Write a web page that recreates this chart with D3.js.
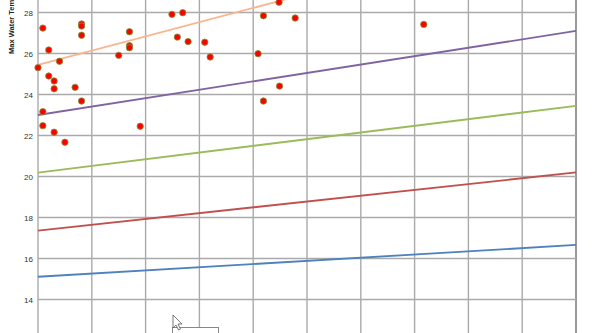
<!DOCTYPE html>
<html><head><meta charset="utf-8">
<script src="https://cdn.jsdelivr.net/npm/d3@7"></script>
<style>html,body{margin:0;padding:0;background:#fff;overflow:hidden}svg{display:block}</style>
</head><body>
<svg id="c" width="592" height="333"></svg>
<script>
// Data (x in axis units, 10 grid intervals; y = max water temperature)
const pointX = [0.00,0.09,0.20,0.40,0.20,0.30,0.30,0.09,0.09,0.30,0.50,0.69,0.81,0.81,0.81,0.81,1.50,1.70,1.70,1.70,1.90,2.49,2.69,2.59,2.79,3.10,3.20,4.09,4.19,4.48,4.78,4.49,4.19,7.17];
const pointY = [25.31,27.24,26.17,25.62,24.90,24.66,24.28,23.16,22.48,22.16,21.67,24.35,27.44,27.34,26.89,23.68,25.91,27.06,26.38,26.28,22.45,27.91,27.99,26.80,26.58,26.55,25.83,25.99,27.84,28.50,27.73,24.41,23.68,27.42];
const lineNames = ["orange","purple","green","red","blue"];
const lineStart = [25.44,23.00,20.19,17.36,15.11];
const lineEnd   = [32.40,27.10,23.45,20.20,16.66];
const lineColors = ["#fbb48e","#8064a2","#9bbb59","#c0504d","#4f81bd"];
const yTicks = [14,16,18,20,22,24,26,28];
const xTicks = [0,1,2,3,4,5,6,7,8,9,10];
const yTitle = "Max Water Temperature";

const svg = d3.select("#c");
const x = d3.scaleLinear().domain([0,10]).range([38,576]);
const y = d3.scaleLinear().domain([14,28]).range([299.5,12.5]);

// grid
const g = svg.append("g");
g.selectAll(".vg").data(xTicks).join("line")
  .attr("x1",d=>x(d)).attr("x2",d=>x(d)).attr("y1",-10).attr("y2",345)
  .attr("stroke",d=>d===10?"#555":"#aaa").attr("stroke-width",d=>d===10?1.2:1.4);
g.selectAll(".hg").data([12,14,16,18,20,22,24,26,28,30]).join("line")
  .attr("x1",x(0)).attr("x2",x(10)).attr("y1",d=>y(d)).attr("y2",d=>y(d))
  .attr("stroke","#aaa").attr("stroke-width",1.4);

// y axis labels
const yAxis = d3.axisLeft(y).tickValues(yTicks).tickSize(0).tickPadding(5).tickFormat(d3.format("d"));
const ya = svg.append("g").attr("transform",`translate(${x(0)},0)`).call(yAxis);
ya.select(".domain").remove();
ya.selectAll("text").attr("font-family","Liberation Sans, Arial, sans-serif").attr("font-size",8).attr("fill","#333");

svg.append("text").attr("transform","translate(14,54) rotate(-90)")
  .attr("font-family","Liberation Sans, Arial, sans-serif").attr("font-size",7.5).attr("font-weight","bold")
  .attr("fill","#222").text(yTitle);

// trend lines
lineNames.forEach((n,i)=>{
  svg.append("line").attr("x1",x(0)).attr("x2",x(10))
    .attr("y1",y(lineStart[i])).attr("y2",y(lineEnd[i]))
    .attr("stroke",lineColors[i]).attr("stroke-width",1.8);
});

// points
svg.selectAll(".pt").data(pointX.map((v,i)=>[v,pointY[i]])).join("circle")
  .attr("cx",d=>x(d[0])).attr("cy",d=>y(d[1])).attr("r",3.2)
  .attr("fill","#ff0000").attr("stroke","#7a9a3a").attr("stroke-width",0.8);

// tooltip box and cursor artifacts
svg.append("rect").attr("x",172.5).attr("y",327.5).attr("width",46).attr("height",10)
  .attr("fill","#fff").attr("stroke","#888");
svg.append("path").attr("d","M173,315 L173,328 L176,325 L178.5,330 L180.5,329 L178,324 L182,324 Z")
  .attr("fill","#fff").attr("stroke","#555").attr("stroke-width",0.8);
</script>
</body></html>
